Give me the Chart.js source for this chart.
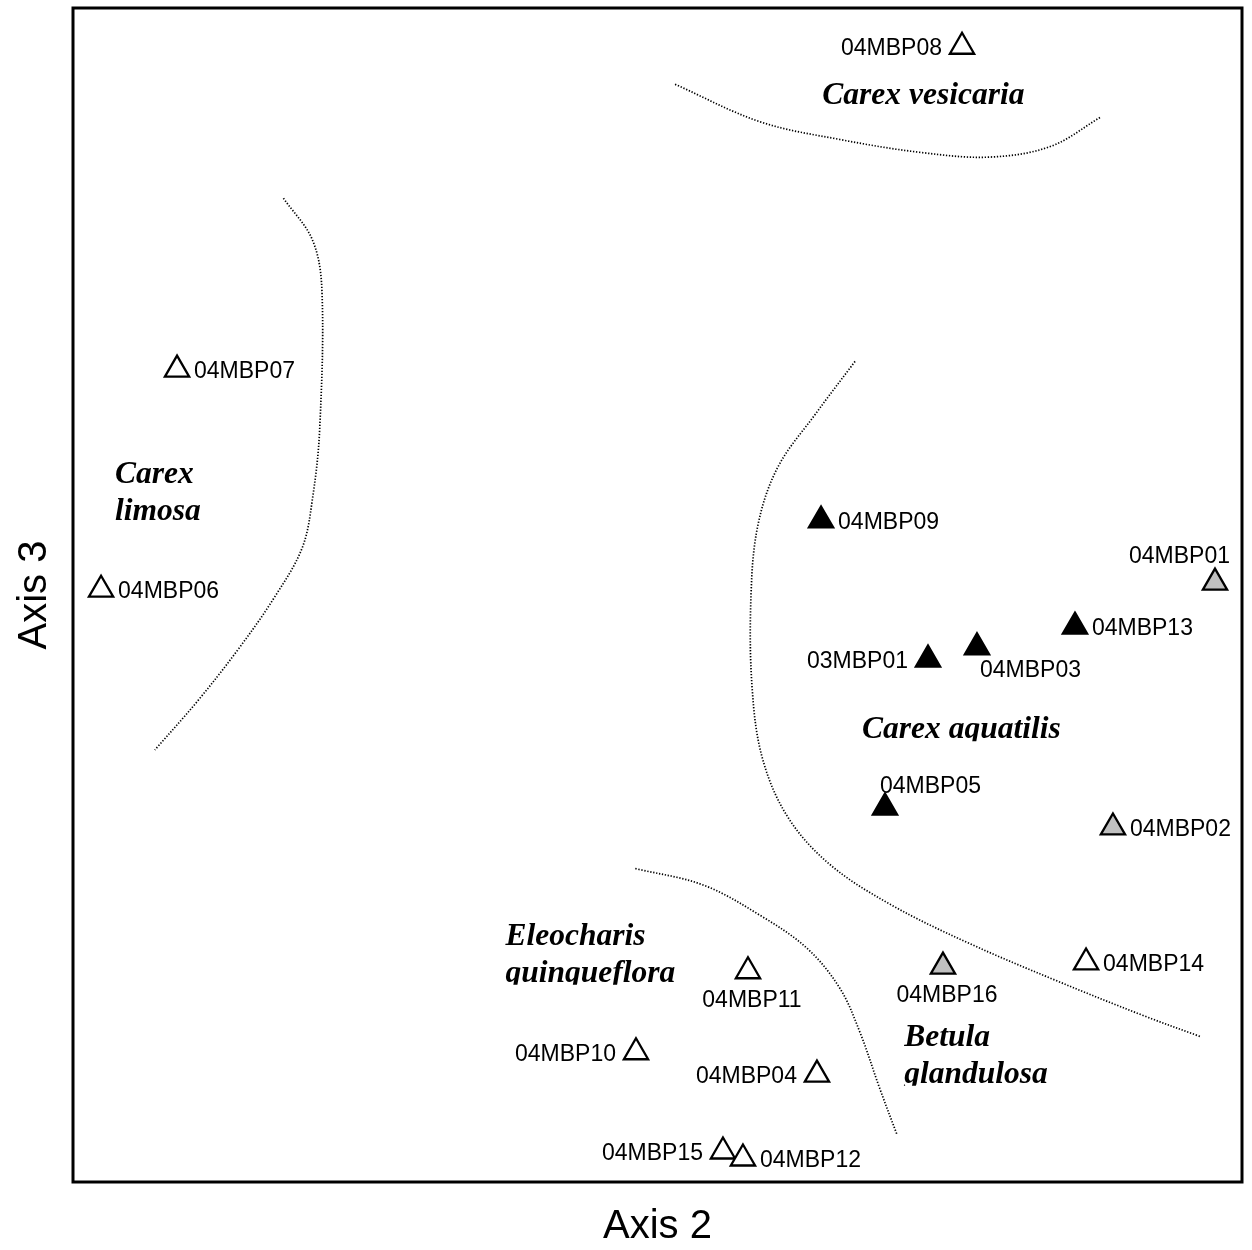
<!DOCTYPE html>
<html>
<head>
<meta charset="utf-8">
<title>Ordination – Axis 2 vs Axis 3</title>
<script src="https://cdn.jsdelivr.net/npm/chart.js@4.4.0/dist/chart.umd.min.js"></script>
<style>
  html, body { margin: 0; padding: 0; background: #fff; overflow: hidden; }
  #wrap { width: 1252px; height: 1250px; position: relative; }
  #ord { display: block; }
</style>
</head>
<body>
<div id="wrap"><canvas id="ord"></canvas></div>
<script>
// ===== Data: plot scores (axis 2 / axis 3, arbitrary 0-100 units) =====
const plotIds = ['04MBP08', '04MBP07', '04MBP06', '04MBP09', '04MBP01', '04MBP13', '03MBP01', '04MBP03', '04MBP05',
                 '04MBP02', '04MBP14', '04MBP16', '04MBP11', '04MBP10', '04MBP04', '04MBP15', '04MBP12'];
const axis2 = [76.05, 8.90, 2.40, 63.99, 97.69, 85.71, 73.14, 77.33, 69.46, 88.96, 86.66, 74.42, 57.74, 48.16, 63.64, 55.60, 57.31];
const axis3 = [96.70, 69.20, 50.45, 56.35, 51.05, 47.30, 44.50, 45.55, 31.90, 30.20, 18.70, 18.35, 17.95, 11.05, 9.15, 2.60, 2.00];
// marker group: open / black / gray
const plotGroup = ['open', 'open', 'open', 'black', 'gray', 'black', 'black', 'black', 'black',
                   'gray', 'open', 'gray', 'open', 'open', 'open', 'open', 'open'];
// where the id sits relative to its marker
const labelSide = ['L', 'R', 'R', 'R', 'AL', 'R', 'L', 'BR', 'AR', 'R', 'R', 'B', 'B', 'L', 'L', 'L', 'R'];

// ===== Community boundaries (dotted) =====
const vesicariaX = [51.5, 58.8, 65.6, 72.5, 78.4, 83.6, 87.9];
const vesicariaY = [93.5, 90.3, 88.8, 87.7, 87.3, 88.2, 90.7];
const limosaX = [18.0, 20.5, 21.3, 21.1, 20.5, 19.6, 17.1, 14.0, 10.6, 7.0];
const limosaY = [83.8, 80.2, 75.8, 64.1, 58.3, 54.0, 49.6, 45.2, 40.9, 36.8];
const aquatilisX = [66.9, 63.5, 60.3, 58.6, 58.0, 58.1, 59.0, 61.2, 64.8, 70.0, 76.5, 84.0, 91.5, 96.4];
const aquatilisY = [69.9, 65.4, 60.9, 56.0, 50.0, 42.0, 36.0, 31.0, 27.0, 23.6, 20.4, 17.2, 14.2, 12.4];
const betulaX = [48.1, 53.9, 58.8, 62.8, 65.6, 67.3, 69.0, 70.5];
const betulaY = [26.7, 25.3, 22.7, 19.9, 16.5, 12.8, 8.0, 4.0];

// ===== Community names =====
const communityNames = [['Carex vesicaria'], ['Carex', 'limosa'], ['Carex aquatilis'],
                        ['Eleocharis', 'quinqueflora'], ['Betula', 'glandulosa']];
const communityX = [64.1, 3.6, 67.5, 37.0, 71.1];
const communityY = [91.8, 59.5, 37.8, 20.2, 11.6];

// ===== Build datasets =====
const FILL = { open: '#ffffff', black: '#000000', gray: '#c0c0c0' };

function pointsFor(group) {
    const out = [];
    plotIds.forEach((id, i) => {
        if (plotGroup[i] === group) out.push({ x: axis2[i], y: axis3[i] });
    });
    return out;
}

function curve(xs, ys) {
    return {
        data: xs.map((x, i) => ({ x, y: ys[i] })),
        showLine: true,
        pointRadius: 0,
        borderColor: '#000',
        borderWidth: 1.7,
        borderDash: [1.3, 1.7],
        tension: 0.35,
        fill: false
    };
}

const markerSets = ['open', 'black', 'gray'].map(g => ({
    data: pointsFor(g),
    pointStyle: 'triangle',
    pointRadius: 14,
    pointHoverRadius: 14,
    pointBackgroundColor: FILL[g],
    pointBorderColor: '#000',
    pointBorderWidth: 2.3,
    showLine: false
}));

// ids + names + frame
const labelPlugin = {
    id: 'plotLabels',
    afterDatasetsDraw(chart) {
        const { ctx, scales: { x, y }, chartArea: a } = chart;
        ctx.save();
        ctx.fillStyle = '#000';
        ctx.font = '23px "Liberation Sans", Arial, sans-serif';
        ctx.textBaseline = 'middle';
        plotIds.forEach((id, i) => {
            const px = x.getPixelForValue(axis2[i]);
            const py = y.getPixelForValue(axis3[i]);
            let tx = px + 17, ty = py + 2, align = 'left';
            switch (labelSide[i]) {
                case 'L': tx = px - 20; align = 'right'; break;
                case 'B': tx = px + 4; ty = py + 29; align = 'center'; break;
                case 'BR': tx = px + 3; ty = py + 23; break;
                case 'AR': tx = px - 5; ty = py - 21; break;
                case 'AL': tx = px + 15; ty = py - 26; align = 'right'; break;
            }
            ctx.textAlign = align;
            ctx.fillText(id, tx, ty);
        });

        ctx.font = 'italic bold 31.5px "Liberation Serif", "Times New Roman", serif';
        ctx.textAlign = 'left';
        ctx.textBaseline = 'alphabetic';
        communityNames.forEach((lines, i) => {
            const lx = x.getPixelForValue(communityX[i]);
            const ly = y.getPixelForValue(communityY[i]);
            lines.forEach((t, k) => {
                const by = ly + k * 37;
                // descenders are cut off in the original
                ctx.save();
                ctx.beginPath();
                ctx.rect(lx - 5, by - 40, 420, 43);
                ctx.clip();
                ctx.fillText(t, lx, by);
                ctx.restore();
            });
        });

        ctx.lineWidth = 3;
        ctx.strokeStyle = '#000';
        ctx.strokeRect(a.left, a.top, a.width, a.height);
        ctx.restore();
    }
};

const titleFont = { family: '"Liberation Sans", Arial, sans-serif', size: 40, lineHeight: 1 };

new Chart(document.getElementById('ord'), {
    type: 'scatter',
    data: {
        datasets: [
            curve(vesicariaX, vesicariaY),
            curve(limosaX, limosaY),
            curve(aquatilisX, aquatilisY),
            curve(betulaX, betulaY),
            ...markerSets
        ]
    },
    options: {
        responsive: true,
        maintainAspectRatio: false,
        animation: false,
        layout: { autoPadding: false, padding: { top: 8, right: 10, left: 0, bottom: 0 } },
        plugins: { legend: { display: false }, tooltip: { enabled: false } },
        scales: {
            x: {
                type: 'linear', min: 0, max: 100,
                ticks: { display: false },
                grid: { display: false, drawTicks: false },
                border: { display: false },
                title: { display: true, text: 'Axis 2', color: '#000', font: titleFont, padding: { top: 25, bottom: 3 } }
            },
            y: {
                type: 'linear', min: 0, max: 100,
                ticks: { display: false },
                grid: { display: false, drawTicks: false },
                border: { display: false },
                title: { display: true, text: 'Axis 3', color: '#000', font: titleFont, padding: { top: 15, bottom: 18 } }
            }
        }
    },
    plugins: [labelPlugin]
});
</script>
</body>
</html>
